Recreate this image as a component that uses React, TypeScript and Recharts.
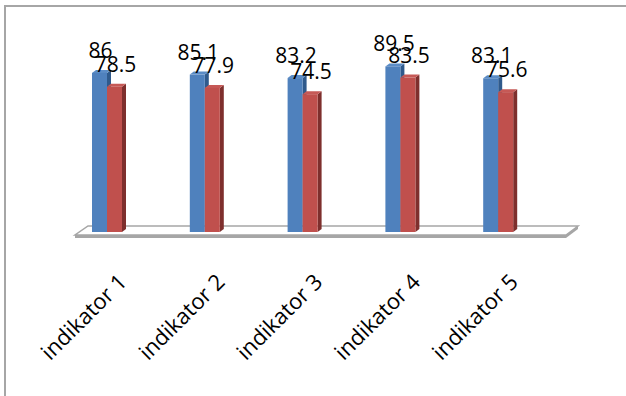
import React from 'react';
import { BarChart, Bar, XAxis, YAxis, LabelList } from 'recharts';

// data
const categories = ['indikator 1', 'indikator 2', 'indikator 3', 'indikator 4', 'indikator 5'];
const seriesBlue = [86, 85.1, 83.2, 89.5, 83.1];
const seriesRed = [78.5, 77.9, 74.5, 83.5, 75.6];

const W = 626;
const H = 396;
const PLOT_LEFT = 58;
const PLOT_RIGHT = 547;
const PLOT_TOP = 47;
const PLOT_BOTTOM = 232;
const AXIS_H = 100;
const FONT = '"Open Sans", "Noto Sans", sans-serif';

const data = categories.map((name, i) => ({ name, a: seriesBlue[i], b: seriesRed[i] }));

// 3d-ish column: front face, right side and top
const make3DBar = (front: string, side: string, top: string) => (props: any) => {
  const { x, y, width, height } = props;
  if (height == null || width == null) return null;
  const d = 4;
  const dy = 3;
  return (
    <g>
      <polygon
        points={`${x + width},${y} ${x + width + d},${y - dy} ${x + width + d},${y + height - dy} ${x + width},${y + height}`}
        fill={side}
      />
      <polygon
        points={`${x},${y} ${x + d},${y - dy} ${x + width + d},${y - dy} ${x + width},${y}`}
        fill={top}
      />
      <rect x={x} y={y} width={width} height={height} fill={front} />
    </g>
  );
};

const valueLabel = (props: any) => {
  const { x, y, width, value } = props;
  return (
    <text
      x={x + width / 2 + 1}
      y={y - 15}
      textAnchor="middle"
      fontSize={21}
      fontFamily={FONT}
      fill="#000"
    >
      {value}
    </text>
  );
};

const CategoryTick = (props: any) => {
  const { x, payload } = props;
  return (
    <text
      transform={`translate(${x + 15},${PLOT_BOTTOM + 45}) rotate(-45)`}
      textAnchor="end"
      dominantBaseline="central"
      fontSize={22}
      fontFamily={FONT}
      fill="#000"
    >
      {payload.value}
    </text>
  );
};

// floor plate under the columns
const Floor = () => {
  const backY = PLOT_BOTTOM - 6;
  const frontY = PLOT_BOTTOM + 3;
  const pts = [
    [PLOT_LEFT + 30, backY],
    [PLOT_RIGHT + 31, backY],
    [PLOT_RIGHT + 19, frontY],
    [PLOT_LEFT + 17, frontY],
  ]
    .map((p) => p.join(','))
    .join(' ');
  return (
    <svg width={W} height={H} style={{ position: 'absolute', left: 0, top: 0 }}>
      <rect x={PLOT_LEFT + 17} y={frontY} width={PLOT_RIGHT - PLOT_LEFT + 2} height={3} fill="#a6a6a6" />
      <polygon points={`${PLOT_RIGHT + 19},${frontY} ${PLOT_RIGHT + 31},${backY} ${PLOT_RIGHT + 31},${backY + 3} ${PLOT_RIGHT + 19},${frontY + 3}`} fill="#a6a6a6" />
      <polygon points={pts} fill="#fff" stroke="#a6a6a6" strokeWidth={1.5} />
    </svg>
  );
};

export default function App() {
  return (
    <div style={{ position: 'fixed', left: 0, top: 0, width: W, height: H, background: '#fff', overflow: 'hidden' }}>
      <div
        style={{
          position: 'absolute',
          left: 4,
          top: 5,
          width: W,
          height: H,
          borderTop: '2px solid #a6a6a6',
          borderLeft: '2px solid #a6a6a6',
        }}
      />
      <Floor />
      <div style={{ position: 'absolute', left: 0, top: 0 }}>
        <BarChart
          width={W}
          height={H}
          data={data}
          margin={{ top: PLOT_TOP, right: W - PLOT_RIGHT, bottom: H - PLOT_BOTTOM - AXIS_H, left: PLOT_LEFT }}
          barSize={15}
          barGap={0}
        >
          <XAxis
            dataKey="name"
            height={AXIS_H}
            axisLine={false}
            tickLine={false}
            interval={0}
            tick={<CategoryTick />}
          />
          <YAxis hide domain={[0, 100]} />
          <Bar dataKey="a" isAnimationActive={false} shape={make3DBar('#4f81bd', '#2f5a8c', '#5b8cc6')}>
            <LabelList dataKey="a" content={valueLabel} />
          </Bar>
          <Bar dataKey="b" isAnimationActive={false} shape={make3DBar('#c0504d', '#7e2f2d', '#c65956')}>
            <LabelList dataKey="b" content={valueLabel} />
          </Bar>
        </BarChart>
      </div>
    </div>
  );
}
